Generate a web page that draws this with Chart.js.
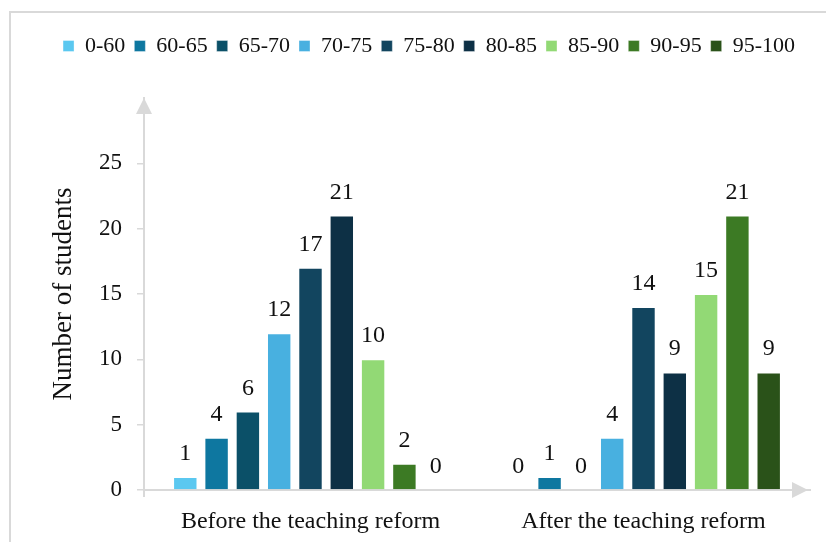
<!DOCTYPE html>
<html>
<head>
<meta charset="utf-8">
<script src="https://cdn.jsdelivr.net/npm/chart.js@4"></script>
<style>
  body { margin: 0; background: #fff; overflow: hidden; }
  #frame { position: absolute; left: 9px; top: 11px; width: 840px; height: 560px; border: 2px solid #d9d9d9; }
  #wrap { position: absolute; left: 0; top: 0; width: 826px; height: 542px; }
</style>
</head>
<body>
<div id="frame"></div>
<div id="wrap"><canvas id="chart" width="826" height="542"></canvas></div>
<script>
const groups = ["Before the teaching reform", "After the teaching reform"];
const ranges = ["0-60", "60-65", "65-70", "70-75", "75-80", "80-85", "85-90", "90-95", "95-100"];
const before = [1, 4, 6, 12, 17, 21, 10, 2, 0];
const after = [0, 1, 0, 4, 14, 9, 15, 21, 9];
const colors = ["#5bc8f0", "#0e77a0", "#0b5068", "#48b0e0", "#12455f", "#0d3045", "#92d975", "#3c7a24", "#2a5219"];
const yTicks = [0, 5, 10, 15, 20, 25];

const axisGrey = '#d9d9d9';
const serif = "'Liberation Serif', 'Times New Roman', serif";

// one dataset per score range, two categories (before / after)
const datasets = ranges.map((r, i) => ({
    label: r,
    data: [before[i], after[i]],
    backgroundColor: colors[i],
    borderColor: 'rgba(255,255,255,0.35)',
    borderWidth: 1,
    categoryPercentage: 0.846,
    barPercentage: 0.78
}));

// numbers above the bars
const valueLabels = {
    id: 'valueLabels',
    afterDatasetsDraw(chart) {
        const ctx = chart.ctx;
        ctx.save();
        ctx.font = '24px ' + serif;
        ctx.fillStyle = '#111';
        ctx.textAlign = 'center';
        ctx.textBaseline = 'alphabetic';
        chart.data.datasets.forEach((ds, i) => {
            chart.getDatasetMeta(i).data.forEach((bar, j) => {
                ctx.fillText(ds.data[j], bar.x, bar.y - 17);
            });
        });
        ctx.restore();
    }
};

// arrow heads on both axes
const axisArrows = {
    id: 'axisArrows',
    afterDraw(chart) {
        const { ctx, chartArea: a } = chart;
        ctx.save();
        ctx.fillStyle = axisGrey;
        ctx.beginPath();
        ctx.moveTo(a.left, a.top);
        ctx.lineTo(a.left - 8, a.top + 16);
        ctx.lineTo(a.left + 8, a.top + 16);
        ctx.closePath();
        ctx.fill();
        ctx.beginPath();
        ctx.moveTo(a.right - 2, a.bottom);
        ctx.lineTo(a.right - 18, a.bottom - 8);
        ctx.lineTo(a.right - 18, a.bottom + 8);
        ctx.closePath();
        ctx.fill();
        ctx.restore();
    }
};

// make the legend block a fixed height so the plot starts lower
const legendHeight = {
    id: 'legendHeight',
    beforeInit(chart) {
        const fit = chart.legend.fit;
        chart.legend.fit = function () {
            fit.bind(this)();
            this.height = 72;
        };
    }
};

new Chart(document.getElementById('chart'), {
    type: 'bar',
    data: { labels: groups, datasets: datasets },
    plugins: [legendHeight, valueLabels, axisArrows],
    options: {
        responsive: false,
        animation: false,
        layout: { padding: { top: 26, left: 48, right: 16, bottom: 0 } },
        plugins: {
            tooltip: { enabled: false },
            legend: {
                position: 'top',
                labels: {
                    boxWidth: 11, boxHeight: 11, padding: 9,
                    color: '#111',
                    font: { family: serif, size: 22 }
                }
            }
        },
        scales: {
            x: {
                afterFit(s) { s.height = 52; },
                grid: {
                    drawOnChartArea: false,
                    tickLength: 7,
                    lineWidth: 2,
                    color: c => c.index === 0 ? axisGrey : 'transparent'
                },
                border: { color: axisGrey, width: 2 },
                ticks: { padding: 10, color: '#111', font: { family: serif, size: 24 } }
            },
            y: {
                min: 0, max: 30,
                afterFit(s) { s.width = 96; },
                afterBuildTicks(s) { s.ticks = yTicks.concat([30]).map(v => ({ value: v })); },
                grid: {
                    drawOnChartArea: false,
                    tickLength: 7,
                    lineWidth: 1.5,
                    color: c => c.tick && c.tick.value === 30 ? 'transparent' : axisGrey
                },
                border: { color: axisGrey, width: 2 },
                ticks: {
                    padding: 15,
                    color: '#111',
                    font: { family: serif, size: 23 },
                    callback: v => yTicks.includes(v) ? v : ''
                },
                title: {
                    display: true,
                    text: 'Number of students',
                    color: '#111',
                    padding: { top: 0, bottom: 0 },
                    font: { family: serif, size: 27 }
                }
            }
        }
    }
});
</script>
</body>
</html>
